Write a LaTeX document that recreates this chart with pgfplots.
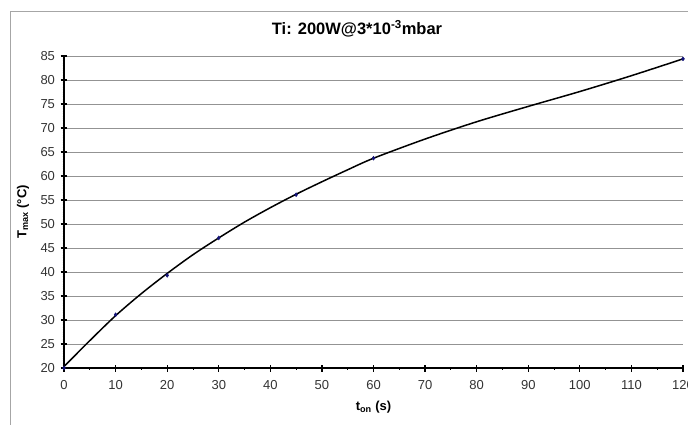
\documentclass[border=0pt]{standalone}
\usepackage{fontspec}
\setmainfont{Liberation Sans}
\usepackage{amsmath}
\usepackage{pgfplots}
\pgfplotsset{compat=1.18}
\begin{document}
\begin{tikzpicture}[x=1pt,y=1pt]
\begin{axis}[
  at={(64pt,-368pt)}, anchor=south west,
  scale only axis, width=619pt, height=312pt,
  xmin=0, xmax=120, ymin=20, ymax=85,
  xtick={0,10,...,120}, ytick={20,25,...,85},
  minor x tick num=1, minor y tick num=9,
  axis lines=left, axis line style={-, line width=1.4pt, black},
  ymajorgrids, major grid style={gray!85, line width=0.8pt},
  tick align=center, major tick length=7pt, minor tick length=3pt,
  every tick/.style={black, line width=1.2pt},
  minor tick style={line width=0.8pt},
  tick label style={font=\fontsize{13}{15}\selectfont, text=black!80},
  /pgf/number format/assume math mode=true,
  xticklabel style={yshift=-5pt},
  yticklabel style={xshift=-2pt},
  xlabel={\textbf{t}$_{\text{\bfseries on}}$\textbf{ (s)}},
  ylabel={\textbf{T}$_{\text{\bfseries max}}$\textbf{ (°C)}},
  every axis x label/.style={at={(axis description cs:0.5,-0.125)}, anchor=center, font=\fontsize{13}{15}\selectfont},
  every axis y label/.style={at={(axis description cs:-0.0662,0.5)}, anchor=center, rotate=90, font=\fontsize{13}{15}\selectfont},
  clip=false,
]
% fitted trend curve
\addplot[black, line width=1.5pt, smooth] coordinates {
  (0,20.3) (5,25.7) (10,30.9) (15,35.5) (20,39.7) (25,43.6) (30,47.1)
  (35,50.4) (40,53.4) (45,56.2) (50,58.8) (55,61.3) (60,63.7) (70,67.7)
  (80,71.3) (90,74.5) (100,77.6) (110,80.9) (120,84.4)
};
% measured points
\addplot[only marks, mark=diamond*, mark size=2pt, color={rgb,255:red,20;green,20;blue,120}] coordinates {
  (0,20) (10,31.1) (20,39.3) (30,47.1) (45,56.1) (60,63.7) (120,84.4)
};
\end{axis}
\draw[gray!70, line width=1pt] (10,-440) -- (10,-12) -- (700,-12);
\node[font=\fontsize{16.5}{18}\selectfont\bfseries] at (357,-29) {Ti: 200W@3*10\textsuperscript{-3}mbar};
\pgfresetboundingbox
\path[use as bounding box] (0,0) rectangle (688,-425);
\end{tikzpicture}
\end{document}
